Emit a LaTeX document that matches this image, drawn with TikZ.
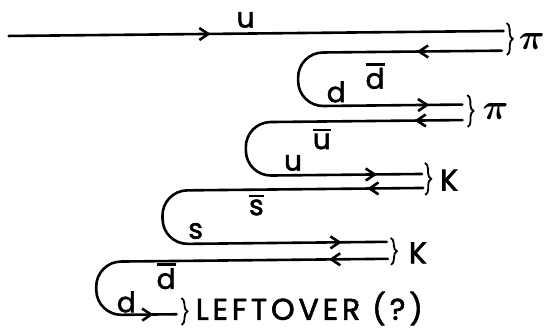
\documentclass[tikz,border=0pt]{standalone}
\usepackage{fix-cm}
\usepackage{bm}
\usepackage{fontspec}
\setmainfont{Poppins}[FakeBold=2]
\usetikzlibrary{arrows.meta,decorations.markings,decorations.pathreplacing}
\newcommand\barred[1]{\leavevmode\vbox{\hrule height 2.6pt\kern 2.4pt\hbox{#1}}}
\tikzset{
  myb/.tip={Straight Barb[length=9pt,width=12pt]},
  quark/.style={line width=2.6pt, line cap=round, rounded corners=25pt},
  arrfrom/.style={postaction={decorate, decoration={markings, mark=at position #1 with {\arrow{myb}}}}},
  lbl/.style={font=\fontsize{28}{30}\selectfont, inner sep=0pt},
  caplbl/.style={font=\fontsize{30}{32}\selectfont\addfontfeature{LetterSpace=13}, inner sep=0pt},
  pil/.style={font=\fontsize{36}{38}\selectfont, inner sep=0pt},
  brc/.style={decorate, decoration={brace, amplitude=6pt, aspect=0.5}, line width=1.8pt},
}
\begin{document}
\begin{tikzpicture}[x=1pt,y=-1pt]
\useasboundingbox (0,0) rectangle (547,329);
\begin{scope}[rotate around={0.58:(273,165)}]
% line ends
\coordinate (u0) at (10,33.3);   \coordinate (u1) at (505,33.3);
\coordinate (a0) at (503,53);    \coordinate (a1) at (463,106.5);
\coordinate (b0) at (463,122);   \coordinate (b1) at (422,175.5);
\coordinate (c0) at (423,189.5); \coordinate (c1) at (386,243);
\coordinate (e0) at (387,260);   \coordinate (e1) at (175,313.3);
% incoming u quark
\draw[quark, arrfrom=202pt] (u0) -- (u1);
% loops
\draw[quark, arrfrom=85pt, arrfrom=-33pt]
  (a0) -- (299,53) -- (299,106.5) -- (a1);
\draw[quark, arrfrom=48pt, arrfrom=-45pt]
  (b0) -- (246,122) -- (246,175.5) -- (b1);
\draw[quark, arrfrom=56pt, arrfrom=-45pt]
  (c0) -- (162,189.5) -- (162,243) -- (c1);
\draw[quark, arrfrom=59pt, arrfrom=-23pt]
  (e0) -- (95,260) -- (95,313.3) -- (e1);
% quark labels
\node[lbl] (lu) at (247,19.7) {u};
\node[lbl] (ldb1) at (376,77) {\barred{d}};
\node[lbl] (ld1) at (337,92.6) {d};
\node[lbl] (lub) at (322,139.5) {\barred{u}};
\node[lbl] (lu2) at (293,163.2) {u};
\node[lbl] (lsb) at (256,204.8) {\barred{s}};
\node[lbl] (ls) at (195,230.2) {s};
\node[lbl] (ldb2) at (165,275) {\barred{d}};
\node[lbl] (ld2) at (125,300.5) {d};
% braces and hadrons
\draw[brc] (508,25.4) -- (508,57.4);
\node[pil] (pi1) at (533,44.6) {$\bm{\pi}$};
\draw[brc] (468,97) -- (468,129);
\node[pil] (pi2) at (496,114) {$\bm{\pi}$};
\draw[brc] (425,164.5) -- (425,196.5);
\node[caplbl] (k1) at (449,181.8) {K};
\draw[brc] (390,239) -- (390,266);
\node[caplbl] (k2) at (417,254.4) {K};
\draw[brc] (180,297) -- (180,324);
\node[caplbl, anchor=base west] (lo) at (194,319) {LEFTOVER (?)};
\end{scope}
\end{tikzpicture}
\end{document}
